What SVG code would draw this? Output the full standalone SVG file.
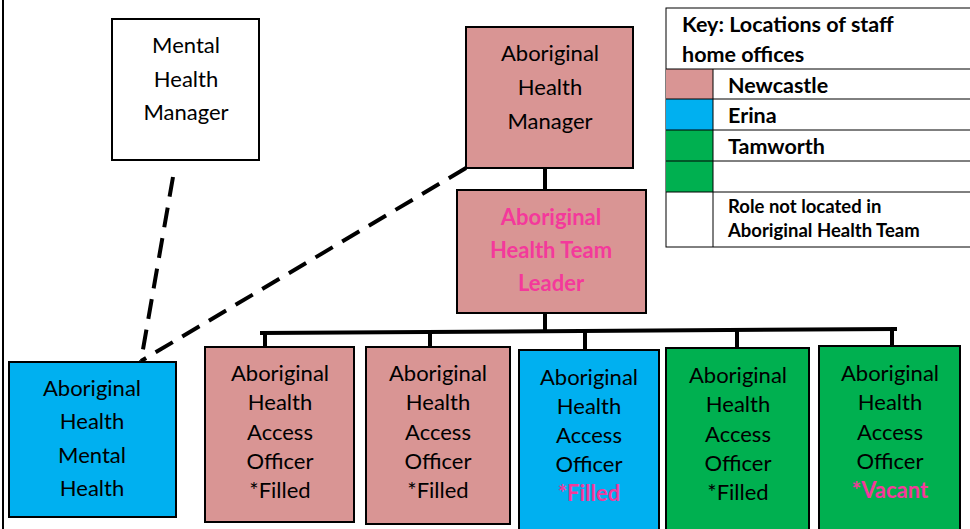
<svg xmlns="http://www.w3.org/2000/svg" width="970" height="529" viewBox="0 0 970 529">
<style>
.box{stroke:#000;stroke-width:2}
.pink{fill:#D99594}.blue{fill:#00B0F0}.green{fill:#00B050}.white{fill:#fff}
.t{font-family:Lato,"Liberation Sans",sans-serif;font-size:22px;fill:#000;text-anchor:middle;dominant-baseline:central}
.hl{fill:#F4399B;font-weight:bold}
.k{font-family:Lato,"Liberation Sans",sans-serif;font-weight:bold;font-size:21.5px;fill:#000;dominant-baseline:central}
.ks{font-size:18.5px}
.solid{stroke:#000;stroke-width:4;fill:none}
.dash{stroke:#000;stroke-width:4;fill:none;stroke-dasharray:20 11}
.grid{stroke:#000;stroke-width:1;fill:none}
</style>
<rect x="0" y="0" width="970" height="529" fill="#fff"/>
<line x1="3" y1="0" x2="3" y2="529" stroke="#000" stroke-width="2"/>

<g id="connectors">
<line class="solid" x1="545" y1="168" x2="545" y2="190"/>
<line class="solid" x1="545" y1="313" x2="545" y2="332"/>
<line class="solid" x1="260" y1="333" x2="897" y2="329"/>
<line class="solid" x1="265" y1="333" x2="265" y2="347"/>
<line class="solid" x1="430" y1="332" x2="430" y2="347"/>
<line class="solid" x1="585" y1="331" x2="585" y2="350"/>
<line class="solid" x1="737" y1="330" x2="737" y2="348"/>
<line class="solid" x1="892" y1="329" x2="892" y2="346"/>
<line class="dash" x1="173" y1="177" x2="141" y2="361"/>
<line class="dash" x1="466" y1="168" x2="141" y2="361"/>
</g>

<g id="mental-health-manager">
<rect class="box white" x="112" y="19" width="147" height="141"/>
<text class="t" x="186" y="44">Mental</text>
<text class="t" x="186" y="78">Health</text>
<text class="t" x="186" y="111">Manager</text>
</g>

<g id="aboriginal-health-manager">
<rect class="box pink" x="466" y="27" width="167" height="141"/>
<text class="t" x="550" y="52">Aboriginal</text>
<text class="t" x="550" y="86">Health</text>
<text class="t" x="550" y="120">Manager</text>
</g>

<g id="team-leader">
<rect class="box pink" x="457" y="190" width="189" height="123"/>
<text class="t hl" x="551" y="216">Aboriginal</text>
<text class="t hl" x="551" y="249">Health Team</text>
<text class="t hl" x="551" y="282">Leader</text>
</g>

<g id="ah-mental-health">
<rect class="box blue" x="9" y="362" width="167" height="155"/>
<text class="t" x="92" y="387">Aboriginal</text>
<text class="t" x="92" y="420">Health</text>
<text class="t" x="92" y="454">Mental</text>
<text class="t" x="92" y="487">Health</text>
</g>

<g id="officer-1">
<rect class="box pink" x="205" y="347" width="149" height="175"/>
<text class="t" x="280" y="372">Aboriginal</text>
<text class="t" x="280" y="401">Health</text>
<text class="t" x="280" y="431">Access</text>
<text class="t" x="280" y="460">Officer</text>
<text class="t" x="280" y="489">*Filled</text>
</g>

<g id="officer-2">
<rect class="box pink" x="366" y="347" width="144" height="177"/>
<text class="t" x="438" y="372">Aboriginal</text>
<text class="t" x="438" y="401">Health</text>
<text class="t" x="438" y="431">Access</text>
<text class="t" x="438" y="460">Officer</text>
<text class="t" x="438" y="489">*Filled</text>
</g>

<g id="officer-3">
<rect class="box blue" x="519" y="350" width="140" height="182"/>
<text class="t" x="589" y="376">Aboriginal</text>
<text class="t" x="589" y="405">Health</text>
<text class="t" x="589" y="434">Access</text>
<text class="t" x="589" y="463">Officer</text>
<text class="t hl" x="589" y="492">*Filled</text>
</g>

<g id="officer-4">
<rect class="box green" x="666" y="348" width="143" height="184"/>
<text class="t" x="738" y="374">Aboriginal</text>
<text class="t" x="738" y="403">Health</text>
<text class="t" x="738" y="433">Access</text>
<text class="t" x="738" y="462">Officer</text>
<text class="t" x="738" y="491">*Filled</text>
</g>

<g id="officer-5">
<rect class="box green" x="819" y="346" width="141" height="186"/>
<text class="t" x="890" y="372">Aboriginal</text>
<text class="t" x="890" y="401">Health</text>
<text class="t" x="890" y="431">Access</text>
<text class="t" x="890" y="460">Officer</text>
<text class="t hl" x="890" y="489">*Vacant</text>
</g>

<g id="key">
<rect x="666" y="8" width="310" height="239" fill="#fff" stroke="#000" stroke-width="1"/>
<rect class="pink" x="666" y="69" width="47" height="30"/>
<rect class="blue" x="666" y="99" width="47" height="31"/>
<rect class="green" x="666" y="130" width="47" height="31"/>
<rect class="green" x="666" y="161" width="47" height="31"/>
<path class="grid" d="M666 69H970M666 99H970M666 130H970M666 161H970M666 192H970M713 69V247"/>
<text class="k" x="682" y="24">Key: Locations of staff</text>
<text class="k" x="682" y="54">home offices</text>
<text class="k" x="728" y="85">Newcastle</text>
<text class="k" x="728" y="115">Erina</text>
<text class="k" x="728" y="146">Tamworth</text>
<text class="k ks" x="728" y="206">Role not located in</text>
<text class="k ks" x="728" y="230">Aboriginal Health Team</text>
</g>
</svg>
